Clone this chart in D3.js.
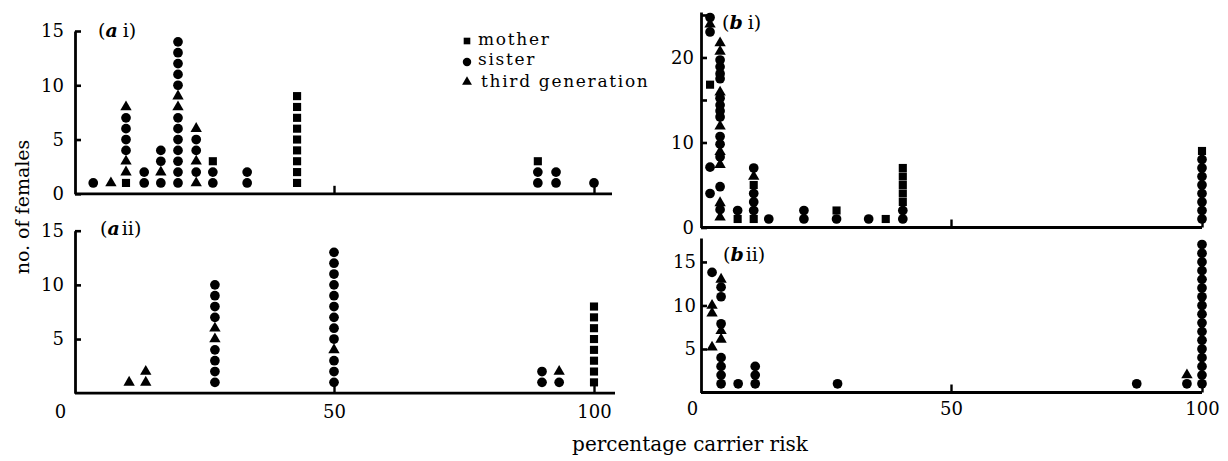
<!DOCTYPE html>
<html><head><meta charset="utf-8">
<script src="https://cdn.jsdelivr.net/npm/d3@7"></script>
<style>
body{margin:0;background:#fff}
svg text{font-family:'DejaVu Serif',serif;fill:#000}
</style>
</head><body>
<svg id="c" width="1228" height="461"></svg>
<script>
// ---- data: [percentage carrier risk, no. of females, relation] ----
// relation: M = mother, S = sister, T = third generation
const categories = ["mother", "sister", "third generation"];
const xTickValues = [0, 50, 100];

const aiPoints = [
  [3.7,1,'S'],
  [7.1,1,'T'],
  [10,1,'M'],[10,2,'T'],[10,3,'T'],[10,4,'S'],[10,5,'S'],[10,6,'S'],[10,7,'S'],[10,8,'T'],
  [13.5,1,'S'],[13.5,2,'S'],
  [16.7,1,'S'],[16.7,2,'T'],[16.7,3,'S'],[16.7,4,'S'],
  [20,1,'S'],[20,2,'S'],[20,3,'S'],[20,4,'S'],[20,5,'S'],[20,6,'S'],[20,7,'S'],[20,8,'T'],[20,9,'T'],
  [20,10,'S'],[20,11,'S'],[20,12,'S'],[20,13,'S'],[20,14,'S'],
  [23.5,1,'T'],[23.5,2,'S'],[23.5,3,'T'],[23.5,4,'S'],[23.5,5,'S'],[23.5,6,'T'],
  [26.7,1,'S'],[26.7,2,'S'],[26.7,3,'M'],
  [33.3,1,'S'],[33.3,2,'S'],
  [42.9,1,'M'],[42.9,2,'M'],[42.9,3,'M'],[42.9,4,'M'],[42.9,5,'M'],[42.9,6,'M'],[42.9,7,'M'],[42.9,8,'M'],[42.9,9,'M'],
  [89.2,1,'S'],[89.2,2,'S'],[89.2,3,'M'],
  [92.7,1,'S'],[92.7,2,'S'],
  [100,1,'S']
];

const aiiPoints = [
  [10.6,1,'T'],
  [13.8,1,'T'],[13.8,2,'T'],
  [27.1,1,'S'],[27.1,2,'S'],[27.1,3,'S'],[27.1,4,'S'],[27.1,5,'T'],[27.1,6,'T'],[27.1,7,'S'],[27.1,8,'S'],[27.1,9,'S'],[27.1,10,'S'],
  [50,1,'S'],[50,2,'S'],[50,3,'S'],[50,4,'T'],[50,5,'S'],[50,6,'S'],[50,7,'S'],[50,8,'S'],[50,9,'S'],
  [50,10,'S'],[50,11,'S'],[50,12,'S'],[50,13,'S'],
  [90,1,'S'],[90,2,'S'],
  [93.3,1,'S'],[93.3,2,'T'],
  [100,1,'M'],[100,2,'M'],[100,3,'M'],[100,4,'M'],[100,5,'M'],[100,6,'M'],[100,7,'M'],[100,8,'M']
];

const biPoints = [
  [2,24.7,'S'],[2,23.9,'T'],[2,23.0,'S'],[2,16.8,'M'],[2,7.1,'S'],[2,4.0,'S'],
  [4,1.2,'T'],[4,2.1,'S'],[4,2.9,'T'],[4,4.8,'S'],[4,7.4,'T'],[4,8.3,'S'],[4,8.9,'T'],[4,9.8,'S'],
  [4,10.7,'S'],[4,11.9,'T'],[4,13.0,'S'],[4,13.7,'S'],[4,14.4,'S'],[4,15.2,'S'],[4,15.9,'T'],
  [4,17.5,'S'],[4,18.1,'S'],[4,18.9,'S'],[4,19.7,'S'],[4,20.7,'T'],[4,21.7,'T'],
  [7.5,1,'M'],[7.5,2,'S'],
  [10.7,1,'M'],[10.7,2,'S'],[10.7,3,'S'],[10.7,4,'S'],[10.7,5,'M'],[10.7,6,'T'],[10.7,7,'S'],
  [13.7,1,'S'],
  [20.7,1,'S'],[20.7,2,'S'],
  [27.2,1,'S'],[27.2,2,'M'],
  [33.6,1,'S'],
  [37,1,'M'],
  [40.4,1,'S'],[40.4,2,'S'],[40.4,3,'M'],[40.4,4,'M'],[40.4,5,'M'],[40.4,6,'M'],[40.4,7,'M'],
  [100,1,'S'],[100,2,'S'],[100,3,'S'],[100,4,'S'],[100,5,'S'],[100,6,'S'],[100,7,'S'],[100,8,'S'],[100,9,'M']
];

const biiPoints = [
  [2.4,13.8,'S'],[2.4,10,'T'],[2.4,9.1,'T'],[2.4,5.2,'T'],
  [4.2,13,'T'],[4.2,12.1,'S'],[4.2,11,'S'],[4.2,7.9,'S'],[4.2,7.1,'T'],[4.2,6.1,'T'],
  [4.2,4,'S'],[4.2,3,'S'],[4.2,2,'S'],[4.2,1,'S'],
  [7.6,1,'S'],
  [11,1,'S'],[11,2,'S'],[11,3,'S'],
  [27.4,1,'S'],
  [87,1,'S'],
  [97,1,'S'],[97,2,'T'],
  [100,1,'S'],[100,2,'S'],[100,3,'S'],[100,4,'S'],[100,5,'S'],[100,6,'S'],[100,7,'S'],[100,8,'S'],[100,9,'S'],
  [100,10,'S'],[100,11,'S'],[100,12,'S'],[100,13,'S'],[100,14,'S'],[100,15,'S'],[100,16,'S'],[100,17,'S']
];

const aiYTicks = [0,5,10,15],  aiYLabels = [0,5,10,15];
const aiiYTicks = [5,10,15],   aiiYLabels = [5,10,15];
const biYTicks = [0,10,15,20,25], biYLabels = [0,10,20];
const biiYTicks = [5,10,15],   biiYLabels = [5,10,15];

// ---- drawing ----
const svg = d3.select('#c');
const shapes = {M: d3.symbolSquare, S: d3.symbolCircle, T: d3.symbolTriangle};
const sizes = {M: 66, S: 74, T: 56};
const FS = 18;

function drawPanel(p) {
  const x = d3.scaleLinear().domain([0,100]).range(p.xRange);
  const y = d3.scaleLinear().domain(p.yDomain).range(p.yRange);
  const g = svg.append('g');

  // y axis
  const ya = d3.axisLeft(y).tickValues(p.yTicks).tickSizeInner(-6).tickSizeOuter(0)
    .tickPadding(p.yPad).tickFormat(d => p.yLabels.includes(d) ? d : '');
  const yg = g.append('g').attr('transform', `translate(${p.axisX},0)`).call(ya);
  yg.select('.domain').attr('stroke','#000').attr('stroke-width',2.8);
  yg.selectAll('.tick line').attr('stroke','#000').attr('stroke-width',2.6);
  yg.selectAll('.tick text').attr('font-size',FS).attr('font-family',"'DejaVu Serif',serif").attr('fill','#000');

  // x axis
  const xa = d3.axisBottom(x).tickValues(xTickValues).tickSizeInner(-8).tickSizeOuter(0)
    .tickPadding(p.xPad).tickFormat(d => p.xLabels ? d : '');
  const xg = g.append('g').attr('transform', `translate(0,${y(0)})`).call(xa);
  xg.select('.domain').remove();
  xg.selectAll('.tick').filter(d => d === 0).select('line').remove();
  xg.selectAll('.tick line').attr('stroke','#000').attr('stroke-width',2.4);
  xg.selectAll('.tick text').attr('font-size',FS).attr('font-family',"'DejaVu Serif',serif").attr('fill','#000')
    .attr('dx', d => d === 0 ? p.zeroDx : 0);
  g.append('line').attr('x1', p.axisX).attr('x2', p.xEnd).attr('y1', y(0)).attr('y2', y(0))
    .attr('stroke','#000').attr('stroke-width',2.8);

  // points
  g.selectAll('path.pt').data(p.points).join('path').attr('class','pt')
    .attr('transform', d => `translate(${x(d[0])},${y(d[1])})`)
    .attr('d', d => d3.symbol(shapes[d[2]], sizes[d[2]])())
    .attr('fill','#000');

  // panel label
  const t = svg.append('text').attr('x', p.label.x).attr('y', p.label.y).attr('font-size', 19);
  t.append('tspan').text('(');
  t.append('tspan').text(p.label.letter).attr('font-style','italic').attr('font-weight','bold');
  t.append('tspan').text(p.label.roman + ')').attr('dx', p.label.gap);
}

drawPanel({points: aiPoints, xRange:[74,594], yDomain:[0,15], yRange:[193.8,31], axisX:75, xEnd:612,
  yTicks: aiYTicks, yLabels: aiYLabels, yPad: 11, xPad: 12, xLabels:false, zeroDx:0,
  label:{x:98, y:37, letter:'a', roman:'i', gap:5}});
drawPanel({points: aiiPoints, xRange:[74,594], yDomain:[0,15], yRange:[393.2,230.7], axisX:75, xEnd:615,
  yTicks: aiiYTicks, yLabels: aiiYLabels, yPad: 11, xPad: 12.5, xLabels:true, zeroDx:-14,
  label:{x:100, y:235, letter:'a', roman:'ii', gap:2}});
drawPanel({points: biPoints, xRange:[700,1202], yDomain:[0,25.35], yRange:[227.5,12], axisX:701, xEnd:1202,
  yTicks: biYTicks, yLabels: biYLabels, yPad: 7, xPad: 10, xLabels:false, zeroDx:0,
  label:{x:722, y:29, letter:'b', roman:'i', gap:5}});
drawPanel({points: biiPoints, xRange:[700,1202], yDomain:[0,17.75], yRange:[392.5,238], axisX:701, xEnd:1202,
  yTicks: biiYTicks, yLabels: biiYLabels, yPad: 5, xPad: 10, xLabels:true, zeroDx:-8,
  label:{x:723, y:261, letter:'b', roman:'ii', gap:2}});

// legend
const legKeys = ['M','S','T'];
const legSizes = {M: 44, S: 56, T: 42};
const leg = svg.append('g');
legKeys.forEach((k, i) => {
  const cy = [41, 62, 82][i];
  leg.append('path').attr('transform', `translate(467,${cy})`)
    .attr('d', d3.symbol(shapes[k], legSizes[k])()).attr('fill','#000');
  leg.append('text').attr('x', k === 'T' ? 481 : 478).attr('y', [45, 65, 87][i])
    .attr('font-size', 17).attr('letter-spacing', 1.7).text(categories[i]);
});

// axis titles
svg.append('text').attr('transform','translate(29,207) rotate(-90)').attr('text-anchor','middle')
  .attr('font-size',19).text('no. of females');
svg.append('text').attr('x',690).attr('y',451).attr('text-anchor','middle')
  .attr('font-size',20).text('percentage carrier risk');
</script>
</body></html>
